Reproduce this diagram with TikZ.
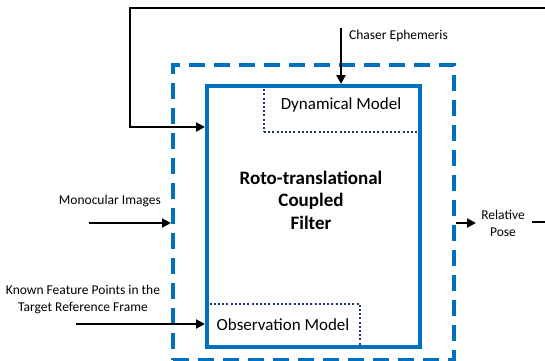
\documentclass[tikz,border=0pt]{standalone}
\usepackage{fontspec}
\setmainfont{Carlito}
\usetikzlibrary{arrows.meta}
\definecolor{offblue}{HTML}{0070C0}
\definecolor{navy}{HTML}{203864}
\tikzset{
  lbl/.style={font=\fontsize{13.5}{17}\selectfont, align=center, inner sep=0pt},
  mdl/.style={font=\fontsize{17}{20}\selectfont, inner sep=0pt},
  arr/.style={line width=2.6pt, -{Triangle[length=9pt,width=9pt]}},
  plain/.style={line width=2.6pt},
  dotbox/.style={draw=navy, line width=2pt, dash pattern=on 2pt off 2.2pt},
  bluebox/.style={draw=offblue, line width=4pt, inner sep=0pt},
  dashbox/.style={draw=offblue, line width=4pt, dash pattern=on 16pt off 9pt, inner sep=0pt}
}
\begin{document}
\begin{tikzpicture}[x=1pt,y=-1pt]
\useasboundingbox (0,0) rectangle (545,360);
% dashed outer box
\node[dashbox, minimum width=281pt, minimum height=295pt, anchor=north west] (outer) at (171,63) {};
% dotted sub-boxes
\node[dotbox, minimum width=155pt, minimum height=47pt, anchor=north west, inner sep=0pt] (dyn) at (263,84) {};
\node[dotbox, minimum width=154pt, minimum height=42pt, anchor=north west, inner sep=0pt] (obs) at (205,303) {};
% solid filter box
\node[bluebox, minimum width=213pt, minimum height=261pt, anchor=north west] (filter) at (205,84) {};
% texts
\node[mdl] (dyntxt) at (341,105) {Dynamical Model};
\node[mdl] (obstxt) at (283,325) {Observation Model};
\node[font=\fontsize{19}{22.5}\selectfont\bfseries, align=center, inner sep=0pt] (ftxt) at (311,200) {Roto-translational\\Coupled\\Filter};
\node[lbl, anchor=west] (chaser) at (349,36) {Chaser Ephemeris};
\node[lbl, anchor=east] (mono) at (161,201) {Monocular Images};
\node[lbl] (known) at (83,299.5) {Known Feature Points in the\\Target Reference Frame};
\node[lbl] (relpose) at (503,223) {Relative\\Pose};
% coordinates for free ends
\coordinate (loopR) at (545,8);
\coordinate (loopL) at (130,8);
\coordinate (chaserS) at (341,28);
\coordinate (monoS) at (89,223);
\coordinate (knownS) at (76,324);
\coordinate (outR) at (545,222);
% connectors
\draw[arr] (loopR) -- (loopL) |- (filter.west |- 0,127);
\draw[arr] (chaserS) -- (chaserS |- filter.north);
\draw[arr] (monoS) -- (outer.west |- monoS);
\draw[arr] (knownS) -- (filter.west |- knownS);
\draw[arr] (outer.east |- 0,223) -- (476,223);
\draw[plain] (532,222) -- (outR);
\end{tikzpicture}
\end{document}
